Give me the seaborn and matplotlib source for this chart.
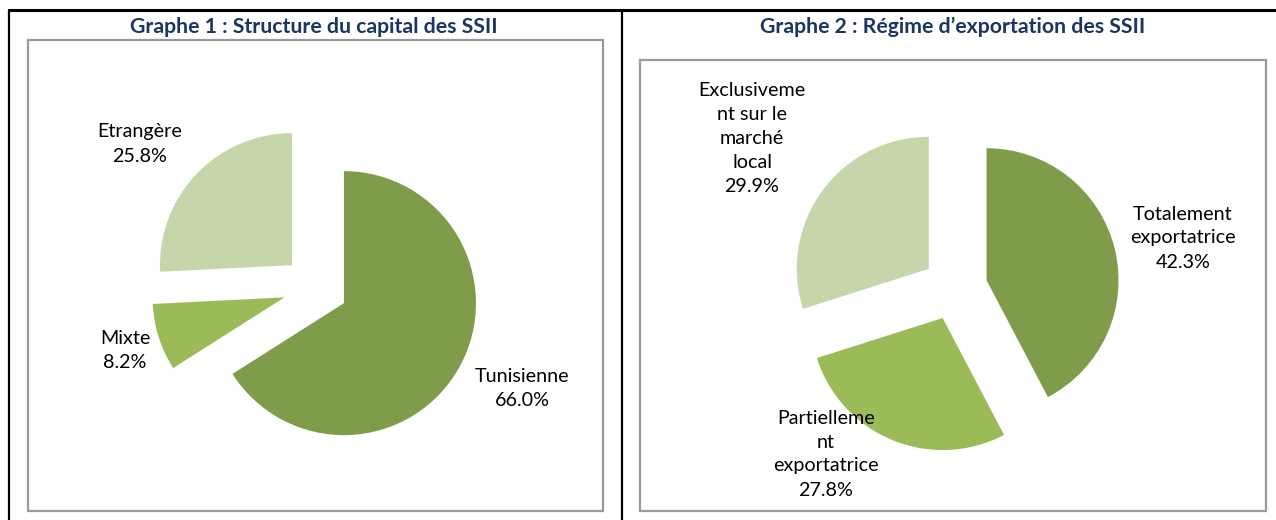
import matplotlib
matplotlib.use("Agg")
import matplotlib.pyplot as plt
import seaborn as sns
from matplotlib.patches import Rectangle

# Data
capital_labels = ["Tunisienne", "Mixte", "Etrangère"]
capital_values = [66.0, 8.2, 25.8]

export_labels = ["Totalement\nexportatrice", "Partielleme\nnt\nexportatrice",
                 "Exclusiveme\nnt sur le\nmarché\nlocal"]
export_values = [42.3, 27.8, 29.9]

titles = ["Graphe 1 : Structure du capital des SSII",
          "Graphe 2 : Régime d\u2019exportation des SSII"]

sns.set_style("white")
plt.rcParams['font.family'] = ['Lato', 'DejaVu Sans']

colors = ["#7f9c4a", "#9bbb59", "#c5d6ab"]

W, H = 1276, 520
fig = plt.figure(figsize=(W / 100, H / 100), dpi=100)

# background axes in pixel coordinates for frames and titles
bg = fig.add_axes([0, 0, 1, 1])
bg.set_xlim(0, W)
bg.set_ylim(H, 0)
bg.axis("off")

# table lines
bg.plot([8, W], [10, 10], color="black", lw=2.2, solid_capstyle="butt")
for x in [9, 622]:
    bg.plot([x, x], [10, H], color="black", lw=1.6)

# inner chart frames
bg.add_patch(Rectangle((28, 40), 575, 471, fill=False, edgecolor="#9a9a9a", lw=1.6))
bg.add_patch(Rectangle((640, 60), 626, 451, fill=False, edgecolor="#9a9a9a", lw=1.6))

bg.text(314, 27, titles[0], ha="center", va="center", fontsize=15.3,
        fontweight="bold", color="#1c3563")
bg.text(953, 27, titles[1], ha="center", va="center", fontsize=15.3,
        fontweight="bold", color="#1c3563")


def draw_pie(cx, cy, values, R=132):
    S = R * 3.2
    ax = fig.add_axes([(cx - S / 2) / W, 1 - (cy + S / 2) / H, S / W, S / H])
    ax.pie(values, colors=colors, startangle=90, counterclock=False,
           explode=[0.246] * len(values), radius=1,
           wedgeprops=dict(linewidth=0))
    ax.set_xlim(-1.6, 1.6)
    ax.set_ylim(-1.6, 1.6)
    ax.set_aspect("equal")
    ax.axis("off")
    return ax


draw_pie(315.5, 287.5, capital_values)
draw_pie(955, 288, export_values)

# data labels (pixel positions of the label centres), drawn above the pies
cap_pos = [(522, 389), (125, 351), (140, 144)]
exp_pos = [(1183, 238), (826, 454), (752, 138)]

for lab, val, (x, y) in zip(capital_labels + export_labels,
                            capital_values + export_values, cap_pos + exp_pos):
    fig.text(x, y, f"{lab}\n{val:.1f}%", ha="center", va="center",
             fontsize=14.2, color="black", linespacing=1.5, zorder=10,
             transform=bg.transData)

fig.savefig("out.png", dpi=100)
